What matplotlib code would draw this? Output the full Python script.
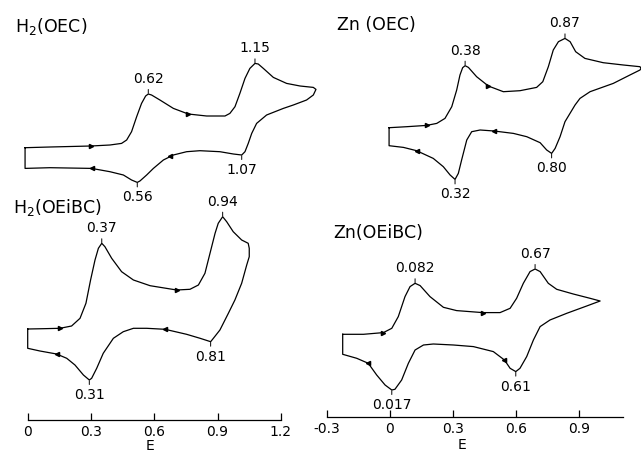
import matplotlib
matplotlib.use("Agg")
import matplotlib.pyplot as plt

# ---------------- data (E in V, current in arbitrary units) ----------------
# H2(OEC)
tl_E = [0.017, 0.139, 0.340, 0.433, 0.490, 0.515, 0.539, 0.564, 0.588, 0.608, 0.621, 0.637, 0.678, 0.744,
        0.817, 0.907, 0.997, 1.021, 1.046, 1.070, 1.095, 1.119, 1.144, 1.160, 1.185, 1.234, 1.299, 1.365,
        1.430, 1.443,
        1.430, 1.397, 1.332, 1.283, 1.201, 1.152, 1.128, 1.111, 1.095, 1.079, 1.038, 0.972, 0.874, 0.809,
        0.744, 0.695, 0.646, 0.613, 0.580, 0.567, 0.539, 0.499, 0.433, 0.343, 0.139, 0.017, 0.017]
tl_i = [0, 0.7, 1.7, 2.7, 4.3, 7.7, 16, 31, 44.3, 51.7, 53.7, 52.7, 47.7, 39.3,
        33.7, 31.7, 31.7, 34.3, 41, 54.3, 69.3, 79.3, 84.3, 83.7, 79.3, 70.3, 64.3, 61.7,
        60.3, 58.3,
        52.7, 47.7, 42.7, 39.3, 32.7, 24.3, 14.3, 4.3, -4, -7.3, -6.3, -4, -3, -4,
        -7.3, -12.3, -20.7, -27.3, -33.3, -34.7, -32.3, -27.3, -24, -20.7, -20, -20.7, 0]
tl_arrow_E = [0.340, 0.817, 0.727, 0.343]
tl_arrow_i = [1.7, 33.7, -8.3, -20.7]
tl_arrow_dir = [">", ">", "<", "<"]
tl_lab = ["0.62", "1.15", "0.56", "1.07"]
tl_lab_E = [0.621, 1.144, 0.567, 1.079]
tl_lab_i = [53.7, 84.3, -34.7, -7.3]
tl_lab_up = [True, True, False, False]

# Zn(OEC)
tr_E = [0.014, 0.100, 0.197, 0.246, 0.286, 0.319, 0.343, 0.359, 0.372, 0.384, 0.400, 0.440, 0.497, 0.570,
        0.651, 0.732, 0.762, 0.789, 0.813, 0.838, 0.870, 0.895, 0.922, 0.967, 1.056, 1.154, 1.235, 1.240,
        1.235, 1.186, 1.105, 0.992, 0.943, 0.919, 0.870, 0.846, 0.822, 0.805, 0.781, 0.749, 0.684, 0.619,
        0.525, 0.457, 0.416, 0.392, 0.367, 0.351, 0.335, 0.311, 0.278, 0.229, 0.148, 0.084, 0.014, 0.014]
tr_i = [0, 1, 2.3, 4.3, 9.3, 21, 37.7, 52.7, 60, 62, 60.3, 51, 41.7, 36,
        37, 40.3, 46, 61, 77.7, 86, 89.3, 86, 76, 69.3, 65, 62.7, 61, 59.3,
        57.7, 52.7, 44.3, 36, 29.3, 22.7, 6, -9, -20.7, -25.7, -22.3, -15, -9, -5.7,
        -3.3, -2.3, -4, -12.3, -32.3, -45.7, -51.7, -47.3, -39, -30.7, -23, -19.7, -18, 0]
tr_arrow_E = [0.197, 0.497, 0.525, 0.148]
tr_arrow_i = [2.3, 41.7, -3.3, -23]
tr_arrow_dir = [">", ">", "<", "<"]
tr_lab = ["0.38", "0.87", "0.32", "0.80"]
tr_lab_E = [0.384, 0.870, 0.335, 0.805]
tr_lab_i = [62, 89.3, -51.7, -25.7]
tr_lab_up = [True, True, False, False]

# H2(OEiBC)
bl_E = [0.000, 0.074, 0.153, 0.208, 0.248, 0.276, 0.298, 0.319, 0.335, 0.351, 0.366, 0.398, 0.445, 0.501,
        0.580, 0.706, 0.769, 0.809, 0.840, 0.864, 0.888, 0.903, 0.924, 0.943, 0.974, 1.014, 1.045, 1.050,
        1.050, 1.038, 1.014, 0.982, 0.951, 0.911, 0.880, 0.867, 0.817, 0.753, 0.651, 0.564, 0.501, 0.453,
        0.406, 0.358, 0.327, 0.303, 0.292, 0.264, 0.224, 0.185, 0.137, 0.058, 0.000, 0.000]
bl_i = [0, 0.3, 0.7, 3, 10.7, 25.7, 49, 69, 80.7, 85.7, 82.3, 70.7, 57.3, 49,
        43.3, 39, 39.7, 44, 55.7, 75.7, 95.7, 105.7, 112.3, 107.3, 97.3, 89, 85.7, 80.7,
        72.3, 64, 45.7, 29, 15.7, -1, -9.3, -12.7, -9.3, -5.3, -0.3, 0.7, 0.7, -2.7,
        -9.3, -24.3, -39.3, -49.3, -51, -46, -36, -29.3, -25, -22, -19.3, 0]
bl_arrow_E = [0.153, 0.706, 0.651, 0.137]
bl_arrow_i = [0.7, 39, -0.3, -25]
bl_arrow_dir = [">", ">", "<", "<"]
bl_lab = ["0.37", "0.94", "0.31", "0.81"]
bl_lab_E = [0.351, 0.924, 0.292, 0.867]
bl_lab_i = [85.7, 112.3, -51, -12.7]
bl_lab_up = [True, True, False, False]
bl_ticks = [0, 0.3, 0.6, 0.9, 1.2]
bl_ticklabels = ["0", "0.3", "0.6", "0.9", "1.2"]

# Zn(OEiBC)
br_E = [-0.225, -0.126, -0.031, 0.009, 0.040, 0.072, 0.096, 0.120, 0.144, 0.191, 0.255, 0.318, 0.442,
        0.525, 0.573, 0.604, 0.636, 0.668, 0.692, 0.716, 0.755, 0.795, 0.874, 0.954, 1.002,
        0.938, 0.843, 0.763, 0.716, 0.684, 0.652, 0.620, 0.600, 0.573, 0.546, 0.493, 0.398, 0.303,
        0.207, 0.160, 0.120, 0.088, 0.056, 0.024, 0.009, -0.023, -0.063, -0.103, -0.158, -0.225, -0.225]
br_i = [0, 0, 1.7, 6, 17.7, 37.7, 47.7, 51, 48.7, 37.7, 27, 23.7, 21.7,
        21.7, 26, 36, 51, 62.7, 65.3, 62.7, 51, 45, 40.3, 36, 33.3,
        28.3, 21, 14.3, 7.7, -5.7, -22.3, -34, -37.3, -34, -25.7, -17.3, -12.3, -10.7,
        -9.7, -10.7, -15.7, -29, -45.7, -55, -55.7, -50.7, -40.7, -29, -24, -20, 0]
br_arrow_E = [-0.031, 0.442, 0.546, -0.103]
br_arrow_i = [1.7, 21.7, -25.7, -29]
br_arrow_dir = [">", ">", "<", "<"]
br_lab = ["0.082", "0.67", "0.017", "0.61"]
br_lab_E = [0.120, 0.692, 0.009, 0.600]
br_lab_i = [51, 65.3, -55.7, -37.3]
br_lab_up = [True, True, False, False]
br_ticks = [-0.3, 0, 0.3, 0.6, 0.9]
br_ticklabels = ["-0.3", "0", "0.3", "0.6", "0.9"]

titles = ["H$_2$(OEC)", "Zn (OEC)", "H$_2$(OEiBC)", "Zn(OEiBC)"]

# ---------------- drawing ----------------
W, H = 641, 454
plt.rcParams["font.family"] = ["DejaVu Sans"]
plt.rcParams["mathtext.fontset"] = "dejavusans"
fig = plt.figure(figsize=(W / 100, H / 100), dpi=100)
fig.patch.set_facecolor("white")
LW = 0.9


def panel_axes(box, e0px, ppv, base_y):
    x0, y0, x1, y1 = box
    ax = fig.add_axes([x0 / W, 1 - y1 / H, (x1 - x0) / W, (y1 - y0) / H])
    ax.set_xlim((x0 - e0px) / ppv, (x1 - e0px) / ppv)
    ax.set_ylim(base_y - y1, base_y - y0)
    ax.patch.set_visible(False)
    for s in ax.spines.values():
        s.set_visible(False)
    ax.set_xticks([])
    ax.set_yticks([])
    return ax


def draw(ax, E, i, aE, ai, adir, lab, lE, li, lup):
    ax.plot(E, i, color="black", lw=LW, clip_on=False, solid_joinstyle="round")
    for x, y, d in zip(aE, ai, adir):
        ax.plot([x], [y], marker=d, ms=3.0, color="black", clip_on=False, ls="none")
    for t, x, y, up in zip(lab, lE, li, lup):
        ax.annotate(t, xy=(x, y), xytext=(0, 15 if up else -15), textcoords="offset pixels",
                    ha="center", va="center", fontsize=10,
                    arrowprops=dict(arrowstyle="-", lw=0.7, color="black", shrinkA=0.5, shrinkB=0.5))


def fig_text(x, y, s):
    fig.text(x / W, 1 - y / H, s, fontsize=12.5, ha="left", va="baseline")


ax_tl = panel_axes((0, 0, 320, 195), 21.6, 204.0, 147.7)
draw(ax_tl, tl_E, tl_i, tl_arrow_E, tl_arrow_i, tl_arrow_dir, tl_lab, tl_lab_E, tl_lab_i, tl_lab_up)

ax_tr = panel_axes((320, 0, 641, 195), 386.2, 205.5, 127.7)
draw(ax_tr, tr_E, tr_i, tr_arrow_E, tr_arrow_i, tr_arrow_dir, tr_lab, tr_lab_E, tr_lab_i, tr_lab_up)

ax_bl = panel_axes((0, 195, 320, 420), 27.7, 211.0, 329.0)
draw(ax_bl, bl_E, bl_i, bl_arrow_E, bl_arrow_i, bl_arrow_dir, bl_lab, bl_lab_E, bl_lab_i, bl_lab_up)

ax_br = panel_axes((320, 195, 641, 416.7), 389.9, 209.8, 334.3)
draw(ax_br, br_E, br_i, br_arrow_E, br_arrow_i, br_arrow_dir, br_lab, br_lab_E, br_lab_i, br_lab_up)

for ax, ticks, tlabs, bounds, ex, ey in [(ax_bl, bl_ticks, bl_ticklabels, (0, 1.2), 0.58, -26),
                                          (ax_br, br_ticks, br_ticklabels, (-0.3, 1.112), 0.342, -28)]:
    sp = ax.spines["bottom"]
    sp.set_visible(True)
    sp.set_bounds(*bounds)
    sp.set_linewidth(LW)
    ax.set_xticks(ticks)
    ax.set_xticklabels(tlabs)
    ax.tick_params(axis="x", direction="in", length=5, width=LW, pad=3.5, labelsize=10)
    ax.annotate("E", xy=(ex, 0), xycoords=("data", "axes fraction"), xytext=(0, ey),
                textcoords="offset pixels", ha="center", va="center", fontsize=10)

fig_text(15, 32, titles[0])
fig_text(337, 30, titles[1])
fig_text(13, 213, titles[2])
fig_text(333, 238, titles[3])

fig.savefig("out.png", dpi=100, facecolor="white")
